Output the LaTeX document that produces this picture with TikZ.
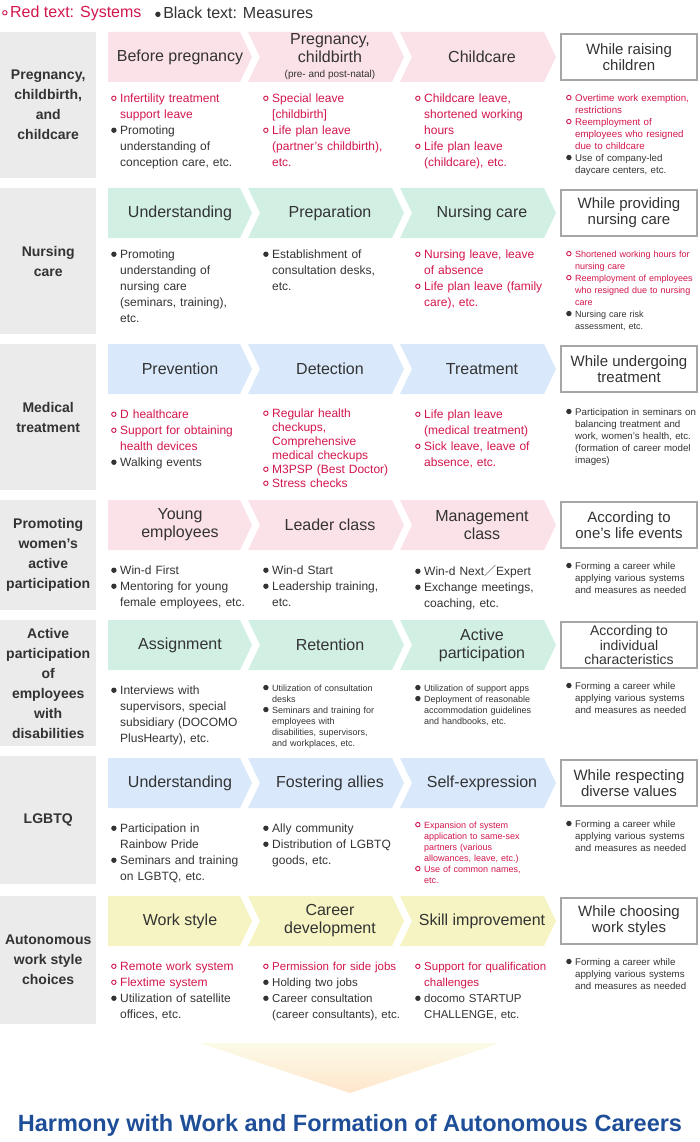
\documentclass[tikz,border=0pt]{standalone}
\usepackage{fontspec}
\setmainfont{Liberation Sans}
\newfontfamily\cjk{Noto Sans CJK JP}
\definecolor{txt}{HTML}{333333}
\definecolor{sysred}{HTML}{D2164C}
\definecolor{sidegray}{HTML}{EBEBEB}
\definecolor{boxgray}{HTML}{A6A6A6}
\definecolor{cpink}{HTML}{FBE1E8}
\definecolor{cmint}{HTML}{D2EFE4}
\definecolor{cblue}{HTML}{D9E8FB}
\definecolor{cyell}{HTML}{F6F4C2}
\definecolor{titleblue}{HTML}{1F4E98}
\newcommand\osys{\raisebox{0.2ex}{\tikz[x=1pt,y=1pt]\draw[sysred,line width=0.9pt] (0,0) circle (2.2pt);}}
\newcommand\omea{\raisebox{0.2ex}{\tikz[x=1pt,y=1pt]\fill[txt] (0,0) circle (2.7pt);}}
\newcommand\sy[1]{\par\leftskip=9pt\hyphenpenalty=10000\noindent\llap{\makebox[9pt][l]{\osys}}{\color{sysred}#1}\par}
\newcommand\me[1]{\par\leftskip=9pt\hyphenpenalty=10000\noindent\llap{\makebox[9pt][l]{\omea}}#1\par}
% chevron: name, left, right, top, notch, fill, label
\newcommand\chev[7]{%
  \fill[#6] (#2,#4) -- ({#3-12},#4) -- (#3,{#4+25}) -- ({#3-12},{#4+50})
    -- (#2,{#4+50}) -- ({#2+#5},{#4+25}) -- cycle;
  \node[chevtext] (#1) at ({(#2+#3)/2+#5/3},{#4+25}) {#7};}
\begin{document}
\begin{tikzpicture}[x=1pt,y=-1pt,
    chevtext/.style={font=\fontsize{16}{18}\selectfont, text=txt, align=center},
    endbox/.style={draw=boxgray, line width=2pt, minimum width=136pt, minimum height=46pt,
      align=center, font=\fontsize{15}{16}\selectfont, text=txt, inner sep=0pt},
    side/.style={fill=sidegray, minimum width=96pt, anchor=north west, align=center,
      font=\bfseries\fontsize{14}{20}\selectfont, text=txt, inner sep=0pt},
    items/.style={anchor=north west, text width=134pt, inner sep=0pt, align=left,
      font=\fontsize{12}{16}\selectfont, text=txt},
    smallitems/.style={items, text width=132pt, font=\fontsize{9.7}{12}\selectfont}
  ]
\useasboundingbox (0,0) rectangle (700,1142);

% legend
\node[anchor=west, inner sep=0pt, font=\fontsize{16}{18}\selectfont] (legsys) at (2,13)
  {\osys\,{\color{sysred}Red text: Systems}};
\node[anchor=west, inner sep=0pt, font=\fontsize{16}{18}\selectfont, text=txt] (legmea) at (155,13)
  {\omea\,Black text: Measures};

% row 1
\node[side, minimum height=146pt] (s1) at (0,32) {Pregnancy,\\childbirth,\\and\\childcare};
\chev{r1a}{108}{252}{32}{0}{cpink}{Before pregnancy}
\chev{r1b}{248}{404}{32}{12}{cpink}{Pregnancy,\\childbirth\\[-3pt]{\fontsize{10}{11}\selectfont(pre- and post-natal)}}
\chev{r1c}{400}{556}{32}{12}{cpink}{Childcare}
\node[endbox] (r1d) at (629,57) {While raising\\children};
\node[items] (l1a) at (111,86) {\sy{Infertility treatment\newline support leave}\me{Promoting\newline understanding of\newline conception care, etc.}};
\node[items] (l1b) at (263,86) {\sy{Special leave\newline [childbirth]}\sy{Life plan leave\newline (partner's childbirth),\newline etc.}};
\node[items] (l1c) at (415,86) {\sy{Childcare leave,\newline shortened working\newline hours}\sy{Life plan leave\newline (childcare), etc.}};
\node[smallitems] (l1d) at (566,89) {\sy{Overtime work exemption,\newline restrictions}\sy{Reemployment of\newline employees who resigned\newline due to childcare}\me{Use of company-led\newline daycare centers, etc.}};

% row 2
\node[side, minimum height=146pt] (s2) at (0,188) {Nursing\\care};
\chev{r2a}{108}{252}{188}{0}{cmint}{Understanding}
\chev{r2b}{248}{404}{188}{12}{cmint}{Preparation}
\chev{r2c}{400}{556}{188}{12}{cmint}{Nursing care}
\node[endbox] (r2d) at (629,213) {While providing\\nursing care};
\node[items] (l2a) at (111,242) {\me{Promoting\newline understanding of\newline nursing care\newline \ (seminars, training),\newline etc.}};
\node[items] (l2b) at (263,242) {\me{Establishment of\newline consultation desks,\newline etc.}};
\node[items] (l2c) at (415,242) {\sy{Nursing leave, leave\newline of absence}\sy{Life plan leave (family\newline care), etc.}};
\node[smallitems, font=\fontsize{9}{12}\selectfont, text width=140pt] (l2d) at (566,245) {\sy{Shortened working hours for\newline nursing care}\sy{Reemployment of employees\newline who resigned due to nursing\newline care}\me{Nursing care risk\newline assessment, etc.}};

% row 3
\node[side, minimum height=146pt] (s3) at (0,344) {Medical\\treatment};
\chev{r3a}{108}{252}{344}{0}{cblue}{Prevention}
\chev{r3b}{248}{404}{344}{12}{cblue}{Detection}
\chev{r3c}{400}{556}{344}{12}{cblue}{Treatment}
\node[endbox] (r3d) at (629,369) {While undergoing\\treatment};
\node[items] (l3a) at (111,402) {\sy{D healthcare}\sy{Support for obtaining\newline health devices}\me{Walking events}};
\node[items, font=\fontsize{12}{14}\selectfont] (l3b) at (263,403) {\sy{Regular health\newline checkups,\newline Comprehensive\newline medical checkups}\sy{M3PSP (Best Doctor)}\sy{Stress checks}};
\node[items] (l3c) at (415,402) {\sy{Life plan leave\newline (medical treatment)}\sy{Sick leave, leave of\newline absence, etc.}};
\node[smallitems] (l3d) at (566,403) {\me{Participation in seminars on\newline balancing treatment and\newline work, women's health, etc.\newline (formation of career model\newline images)}};

% row 4
\node[side, minimum height=110pt] (s4) at (0,500) {Promoting\\women's\\active\\participation};
\chev{r4a}{108}{252}{500}{0}{cpink}{Young\\employees}
\chev{r4b}{248}{404}{500}{12}{cpink}{Leader class}
\chev{r4c}{400}{556}{500}{12}{cpink}{Management\\class}
\node[endbox] (r4d) at (629,525) {According to\\one's life events};
\node[items] (l4a) at (111,558) {\me{Win-d First}\me{Mentoring for young\newline female employees, etc.}};
\node[items] (l4b) at (263,558) {\me{Win-d Start}\me{Leadership training,\newline etc.}};
\node[items] (l4c) at (415,559) {\me{Win-d Next{\cjk ／}Expert}\me{Exchange meetings,\newline coaching, etc.}};
\node[smallitems] (l4d) at (566,557) {\me{Forming a career while\newline applying various systems\newline and measures as needed}};

% row 5
\node[side, minimum height=126pt] (s5) at (0,620) {Active\\participation\\of\\employees\\with\\disabilities};
\chev{r5a}{108}{252}{620}{0}{cmint}{Assignment}
\chev{r5b}{248}{404}{620}{12}{cmint}{Retention}
\chev{r5c}{400}{556}{620}{12}{cmint}{Active\\participation};
\node[endbox, font=\fontsize{14}{14.5}\selectfont] (r5d) at (629,645) {According to\\individual\\characteristics};
\node[items] (l5a) at (111,678) {\me{Interviews with\newline supervisors, special\newline subsidiary (DOCOMO\newline PlusHearty), etc.}};
\node[smallitems, font=\fontsize{9}{11}\selectfont] (l5b) at (263,680) {\me{Utilization of consultation\newline desks}\me{Seminars and training for\newline employees with\newline disabilities, supervisors,\newline and workplaces, etc.}};
\node[smallitems, font=\fontsize{9}{11}\selectfont, text width=145pt] (l5c) at (415,680) {\me{Utilization of support apps}\me{Deployment of reasonable\newline accommodation guidelines\newline and handbooks, etc.}};
\node[smallitems] (l5d) at (566,677) {\me{Forming a career while\newline applying various systems\newline and measures as needed}};

% row 6
\node[side, minimum height=128pt] (s6) at (0,756) {LGBTQ};
\chev{r6a}{108}{252}{758}{0}{cblue}{Understanding}
\chev{r6b}{248}{404}{758}{12}{cblue}{Fostering allies}
\chev{r6c}{400}{556}{758}{12}{cblue}{Self-expression}
\node[endbox] (r6d) at (629,783) {While respecting\\diverse values};
\node[items] (l6a) at (111,816) {\me{Participation in\newline Rainbow Pride}\me{Seminars and training\newline on LGBTQ, etc.}};
\node[items] (l6b) at (263,816) {\me{Ally community}\me{Distribution of LGBTQ\newline goods, etc.}};
\node[smallitems, font=\fontsize{9}{11}\selectfont] (l6c) at (415,817) {\sy{Expansion of system\newline application to same-sex\newline partners (various\newline allowances, leave, etc.)}\sy{Use of common names,\newline etc.}};
\node[smallitems] (l6d) at (566,815) {\me{Forming a career while\newline applying various systems\newline and measures as needed}};

% row 7
\node[side, minimum height=128pt] (s7) at (0,896) {Autonomous\\work style\\choices};
\chev{r7a}{108}{252}{896}{0}{cyell}{Work style}
\chev{r7b}{248}{404}{896}{12}{cyell}{Career\\development}
\chev{r7c}{400}{556}{896}{12}{cyell}{Skill improvement}
\node[endbox] (r7d) at (629,921) {While choosing\\work styles};
\node[items] (l7a) at (111,954) {\sy{Remote work system}\sy{Flextime system}\me{Utilization of satellite\newline offices, etc.}};
\node[items, font=\fontsize{11.5}{16}\selectfont, text width=148pt] (l7b) at (263,954) {\sy{Permission for side jobs}\me{Holding two jobs}\me{Career consultation\newline (career consultants), etc.}};
\node[items, font=\fontsize{11.5}{16}\selectfont] (l7c) at (415,954) {\sy{Support for qualification\newline challenges}\me{docomo STARTUP\newline CHALLENGE, etc.}};
\node[smallitems] (l7d) at (566,953) {\me{Forming a career while\newline applying various systems\newline and measures as needed}};

% bottom arrow and title
\shade[top color=cyell!40!white, bottom color=orange!20!white] (200,1043) -- (500,1043) -- (350,1093) -- cycle;
\node[font=\bfseries\fontsize{23.5}{26}\selectfont, text=titleblue] (goal) at (350,1125)
  {Harmony with Work and Formation of Autonomous Careers};
\end{tikzpicture}
\end{document}
